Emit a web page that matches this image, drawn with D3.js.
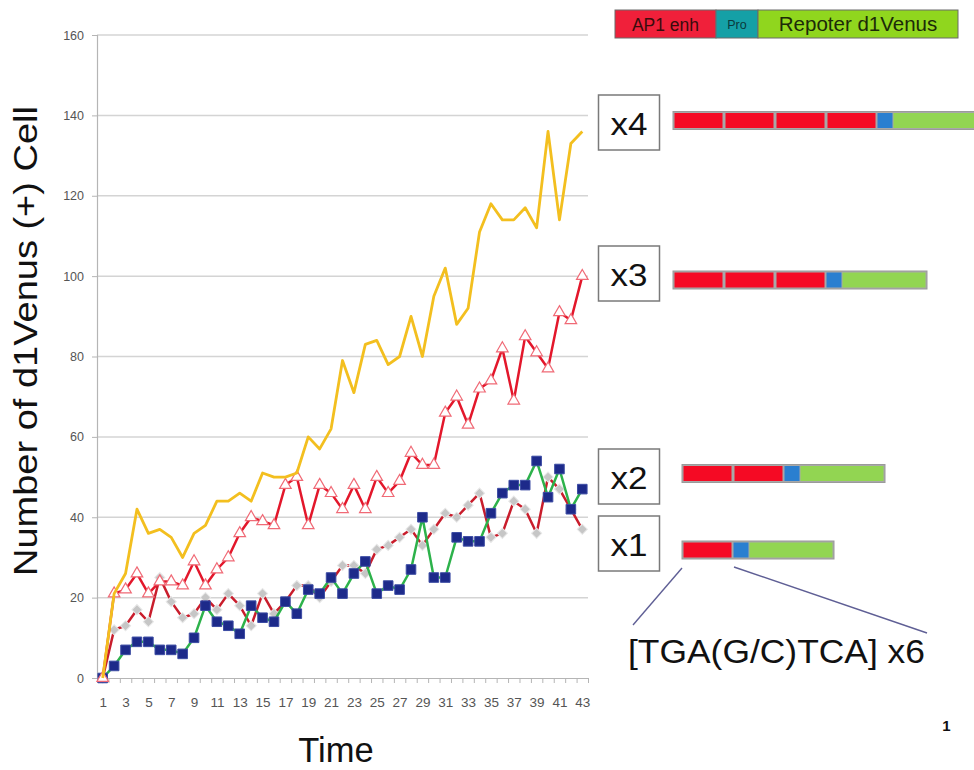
<!DOCTYPE html>
<html>
<head>
<meta charset="utf-8">
<script src="https://cdn.jsdelivr.net/npm/d3@7"></script>
<style>
  html, body { margin: 0; padding: 0; background: #fff; }
  svg { display: block; font-family: "Liberation Sans", Arial, sans-serif; }
</style>
</head>
<body>
<svg id="chart" width="974" height="770"></svg>
<script>
// ---------- data ----------
const time = [1,2,3,4,5,6,7,8,9,10,11,12,13,14,15,16,17,18,19,20,21,22,23,24,25,26,27,28,29,30,31,32,33,34,35,36,37,38,39,40,41,42,43];
const timeLabels = [1,3,5,7,9,11,13,15,17,19,21,23,25,27,29,31,33,35,37,39,41,43];
const yTicks = [0,20,40,60,80,100,120,140,160];

const x1Diamond = [0,12,13,17,14,25,19,15,16,20,17,21,18,13,21,16,19,23,23,20,24,28,28,26,32,33,35,37,33,37,41,40,43,46,35,36,44,42,36,50,47,42,37];
const x2Square  = [0,3,7,9,9,7,7,6,10,18,14,13,11,18,15,14,19,16,22,21,25,21,26,29,21,23,22,27,40,25,25,35,34,34,41,46,48,48,54,45,52,42,47];
const x3Triangle= [0,21,22,26,21,24,24,23,29,23,27,30,36,40,39,38,48,50,38,48,46,42,48,42,50,46,49,56,53,53,66,70,63,72,74,82,69,85,81,77,91,89,100];
const x4Plain   = [0,21,26,42,36,37,35,30,36,38,44,44,46,44,51,50,50,51,60,57,62,79,71,83,84,78,80,90,80,95,102,88,92,111,118,114,114,117,112,136,114,133,136];

// construct diagram (annotation)
const constructLabels = ["x4","x3","x2","x1"];
const constructRepeats = [4,3,2,1];
const legendParts = ["AP1 enh","Pro","Repoter d1Venus"];

// ---------- chart ----------
const svg = d3.select("#chart");
const plot = {left: 97, right: 588, top: 35, bottom: 678};

const x = d3.scalePoint().domain(time).range([plot.left, plot.right]).padding(0.5);
const xEdge = d3.scaleLinear().domain([0.5, 43.5]).range([plot.left, plot.right]);
const y = d3.scaleLinear().domain([0, 160]).range([plot.bottom, plot.top]);

// gridlines
svg.append("g")
  .selectAll("line").data(yTicks.filter(d => d > 0)).join("line")
  .attr("x1", plot.left).attr("x2", plot.right)
  .attr("y1", d => y(d)).attr("y2", d => y(d))
  .attr("stroke", "#d4d4d4").attr("stroke-width", 1.5);

// y axis
const yAxis = svg.append("g").attr("transform", `translate(${plot.left},0)`)
  .call(d3.axisLeft(y).tickValues(yTicks).tickSize(5).tickPadding(8));
yAxis.select(".domain").attr("stroke", "#b5b5b5").attr("stroke-width", 1.2);
yAxis.selectAll(".tick line").attr("stroke", "#b5b5b5");
yAxis.selectAll("text").attr("font-size", 12.5).attr("fill", "#555")
  .attr("font-family", "Liberation Sans, Arial, sans-serif");

// x axis ticks (category boundaries)
const xTickAxis = svg.append("g").attr("transform", `translate(0,${plot.bottom})`)
  .call(d3.axisBottom(xEdge).tickValues(d3.range(0.5, 44, 1)).tickFormat("").tickSize(5).tickSizeOuter(0));
xTickAxis.select(".domain").attr("stroke", "#b5b5b5").attr("stroke-width", 1.2);
xTickAxis.selectAll(".tick line").attr("stroke", "#b5b5b5");

// x axis labels
const xLabAxis = svg.append("g").attr("transform", `translate(0,${plot.bottom})`)
  .call(d3.axisBottom(x).tickValues(timeLabels).tickSize(0).tickPadding(19));
xLabAxis.select(".domain").remove();
xLabAxis.selectAll("text").attr("font-size", 13.5).attr("fill", "#555")
  .attr("font-family", "Liberation Sans, Arial, sans-serif");

// axis titles
svg.append("text")
  .attr("x", 336).attr("y", 762).attr("text-anchor", "middle")
  .attr("font-size", 34.5).attr("fill", "#111").text("Time");

svg.append("text")
  .attr("transform", "translate(37,341) rotate(-90)")
  .attr("text-anchor", "middle")
  .attr("font-size", 33)
  .attr("textLength", 470).attr("lengthAdjust", "spacingAndGlyphs")
  .attr("fill", "#111").text("Number of d1Venus (+) Cell");

// series
const line = d3.line().x((d, i) => x(time[i])).y(d => y(d));
const seriesG = svg.append("g");

function drawSeries(vals, color, width) {
  seriesG.append("path").datum(vals)
    .attr("d", line).attr("fill", "none")
    .attr("stroke", color).attr("stroke-width", width)
    .attr("stroke-linejoin", "round");
}
function drawMarkers(vals, type, size, fill, stroke, sw, rot) {
  seriesG.append("g").selectAll("path").data(vals).join("path")
    .attr("transform", (d, i) => `translate(${x(time[i])},${y(d)}) rotate(${rot || 0})`)
    .attr("d", d3.symbol().type(type).size(size))
    .attr("fill", fill).attr("stroke", stroke).attr("stroke-width", sw);
}

drawSeries(x1Diamond, "#c91d2c", 2.5);
drawMarkers(x1Diamond, d3.symbolSquare, 52, "#c6c6c6", "#e8e8e8", 1, 45);

drawSeries(x2Square, "#2db24b", 2.5);
drawMarkers(x2Square, d3.symbolSquare, 92, "#1d2a8a", "#3b4ba3", 1);

drawSeries(x3Triangle, "#e3172b", 2.5);
drawMarkers(x3Triangle, d3.symbolTriangle, 58, "#ffffff", "#f06a76", 1.2);

drawSeries(x4Plain, "#f3bf1f", 2.8);

// ---------- construct diagram ----------
const diag = svg.append("g");

// top legend bar
const legW = [101, 42, 200];
const legColors = ["#f0203a", "#15a0a6", "#90d61e"];
const legTextColors = ["#3a0c0c", "#0a3a3c", "#1c2a08"];
const legSizes = [17.5, 12.5, 20.5];
let lx = 615;
legendParts.forEach((t, i) => {
  diag.append("rect").attr("x", lx).attr("y", 10).attr("width", legW[i]).attr("height", 28)
    .attr("fill", legColors[i]).attr("stroke", "#6b6b6b").attr("stroke-width", 1);
  diag.append("text").attr("x", lx + legW[i] / 2).attr("y", 31 - (i === 1 ? 2 : 0))
    .attr("text-anchor", "middle").attr("font-size", legSizes[i]).attr("fill", legTextColors[i])
    .text(t);
  lx += legW[i];
});

// constructs
const boxY = [95, 246, 449, 516];
const barY = [111.5, 271, 464.5, 541];
const barX = [673, 673, 682, 682];
const pitch = 51, redW = 48, blueW = 16, greenW = 85, barH = 18;

constructLabels.forEach((lab, k) => {
  diag.append("rect").attr("x", 598.5).attr("y", boxY[k]).attr("width", 61).attr("height", 55)
    .attr("fill", "#fff").attr("stroke", "#7a7a7a").attr("stroke-width", 1.5);
  diag.append("text").attr("x", 629).attr("y", boxY[k] + 40)
    .attr("text-anchor", "middle").attr("font-size", 31)
    .attr("textLength", 37).attr("lengthAdjust", "spacingAndGlyphs")
    .attr("fill", "#111").text(lab);

  const n = constructRepeats[k];
  const totalW = n * pitch + blueW + greenW;
  diag.append("rect").attr("x", barX[k]).attr("y", barY[k]).attr("width", totalW).attr("height", barH)
    .attr("fill", "#a8a8a8").attr("stroke", "#9a9a9a").attr("stroke-width", 1);
  for (let r = 0; r < n; r++) {
    diag.append("rect").attr("x", barX[k] + 1.5 + r * pitch).attr("y", barY[k] + 1.5)
      .attr("width", redW).attr("height", barH - 3).attr("fill", "#f50a24");
  }
  const bx = barX[k] + 1.5 + n * pitch - 1;
  diag.append("rect").attr("x", bx).attr("y", barY[k] + 1.5)
    .attr("width", blueW - 1).attr("height", barH - 3).attr("fill", "#2a7fd0");
  diag.append("rect").attr("x", bx + blueW).attr("y", barY[k] + 1.5)
    .attr("width", greenW - 2).attr("height", barH - 3).attr("fill", "#92d552");
});

// zoom lines from x1 enhancer
diag.append("line").attr("x1", 682).attr("y1", 568).attr("x2", 633).attr("y2", 625)
  .attr("stroke", "#5f5f95").attr("stroke-width", 1.4);
diag.append("line").attr("x1", 734).attr("y1", 567).attr("x2", 927).attr("y2", 633)
  .attr("stroke", "#5f5f95").attr("stroke-width", 1.4);

diag.append("text").attr("x", 628).attr("y", 663)
  .attr("font-size", 32.5).attr("textLength", 297).attr("lengthAdjust", "spacingAndGlyphs")
  .attr("fill", "#111").text("[TGA(G/C)TCA] x6");

// page number
svg.append("text").attr("x", 946.5).attr("y", 731).attr("text-anchor", "middle")
  .attr("font-size", 15).attr("font-weight", "bold").attr("fill", "#111").text("1");
</script>
</body>
</html>
